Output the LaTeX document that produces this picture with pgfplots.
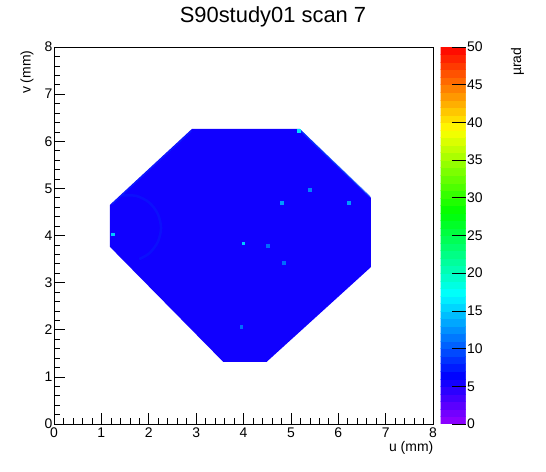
\documentclass[border=0pt]{standalone}
\usepackage{pgfplots}
\pgfplotsset{compat=1.18}
\usepackage{fontspec}
\setmainfont{Liberation Sans}

\definecolor{fillblue}{RGB}{16,0,255}
\definecolor{ringblue}{RGB}{5,35,250}
\definecolor{edgeblue}{RGB}{0,75,255}

\pgfplotsset{/pgf/number format/assume math mode=true}

\begin{document}
\begin{tikzpicture}[x=1bp,y=1bp]
\path[use as bounding box] (0,0) rectangle (546,472);

\node[anchor=base, font=\fontsize{22}{26}\selectfont] at (273,449) {S90study01 scan 7};
\node[rotate=90, anchor=base east, font=\fontsize{14}{16}\selectfont] at (521,428) {µrad};

\begin{axis}[
    at={(54bp,48bp)}, anchor=south west,
    scale only axis, width=379bp, height=377bp,
    xmin=0, xmax=8, ymin=0, ymax=8,
    xtick={0,...,8}, ytick={0,...,8},
    minor tick num=4,
    tick align=inside, tick pos=left,
    major tick length=11bp, minor tick length=6bp,
    tick style={black, line width=0.6bp},
    axis line style={line width=0.8bp},
    ticklabel style={font=\fontsize{14}{16}\selectfont},
    xticklabel style={inner sep=1bp, yshift=-3bp},
    yticklabel style={inner sep=1.5bp},
    label style={font=\fontsize{14}{16}\selectfont},
    xlabel={u (mm)},
    ylabel={v (mm)},
    xlabel style={at={(axis description cs:1.01,-0.074)}, anchor=base east},
    ylabel style={at={(axis description cs:-0.062,1)}, anchor=base east},
    colormap={rootpal}{rgb255(0pt)=(150,0,255) rgb255(6.36pt)=(0,0,255)
        rgb255(17.27pt)=(0,255,255) rgb255(28.18pt)=(0,255,0)
        rgb255(39.09pt)=(255,255,0) rgb255(50pt)=(255,0,0)},
    point meta min=0, point meta max=50,
    colorbar sampled,
    colorbar style={
        at={(parent axis.north east)}, anchor=north west, xshift=-1bp,
        width=25bp,
        samples=51,
        ytick={0,5,...,50},
        minor tick num=0,
        major tick length=14bp,
        tick align=inside,
        ytick pos=right,
        yticklabel pos=right,
        axis line style={draw=none},
        tick style={black, line width=0.6bp},
        yticklabel style={font=\fontsize{14}{16}\selectfont, inner sep=1.5bp},
    },
]

% scanned area
\addplot[draw=none, fill=fillblue] coordinates {
    (2.91,6.26) (5.19,6.26) (6.69,4.80) (6.69,3.33)
    (4.49,1.32) (3.57,1.32) (1.18,3.76) (1.18,4.65)
} --cycle;

% faint ring on the left
\addplot[ringblue, line width=2.5bp, smooth, opacity=0.45] coordinates {
    (1.44,4.85) (1.74,4.84) (2.01,4.70) (2.19,4.46) (2.26,4.16)
    (2.19,3.86) (2.01,3.62) (1.80,3.50)
};

% lighter rim along the upper right edge
\addplot[edgeblue, line width=1.5bp, opacity=0.6] coordinates {
    (5.20,6.23) (6.67,4.82)
};
\addplot[edgeblue, line width=1bp, opacity=0.4] coordinates {
    (1.22,4.66) (2.90,6.22)
};

% hot spots
\addplot[scatter, only marks, mark=square*, mark size=1.3bp,
    scatter/use mapped color={draw=mapped color, fill=mapped color},
    point meta=explicit] coordinates {
    (3.99,3.84) [15]
    (4.81,4.69) [13]
    (6.22,4.69) [13]
    (1.24,4.03) [15]
    (3.95,2.06) [11]
    (5.40,4.97) [12]
    (4.51,3.78) [11]
    (4.85,3.42) [11]
    (5.17,6.23) [16]
};
\end{axis}
\end{tikzpicture}
\end{document}
